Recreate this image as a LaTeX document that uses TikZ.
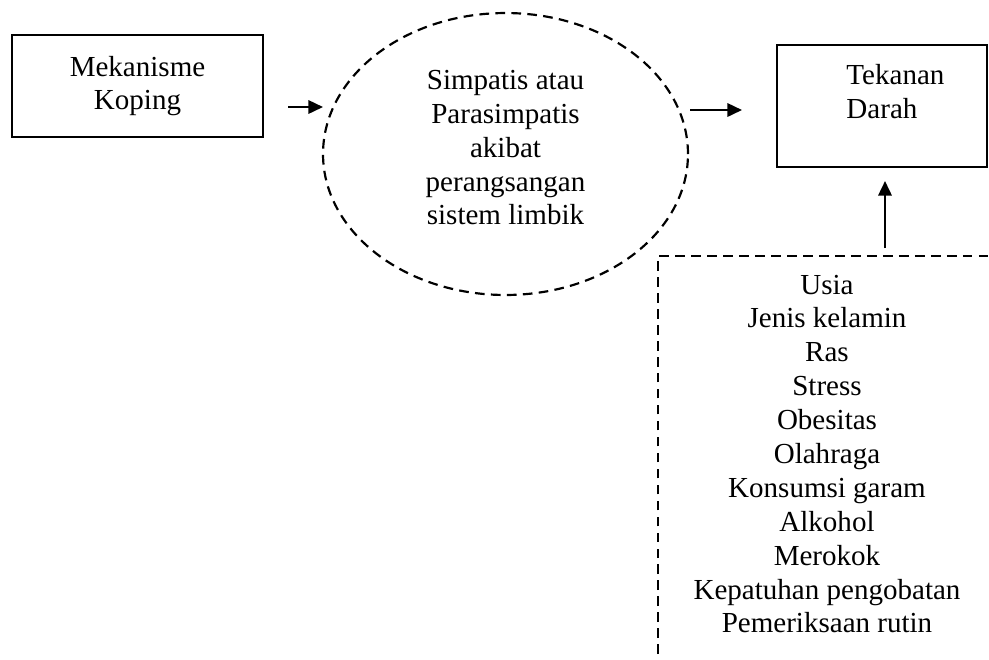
\documentclass[tikz,border=0pt]{standalone}
\usepackage{fontspec}
\setmainfont{Liberation Serif}
\usetikzlibrary{shapes.geometric}
\usetikzlibrary{arrows.meta}
\tikzset{t/.style={font=\fontsize{12}{14}\selectfont, align=center}}
\tikzset{box/.style={draw, line width=0.8pt, t}}
\tikzset{dsh/.style={dash pattern=on 4pt off 2.6pt, line width=0.9pt}}
\tikzset{arr/.style={-{Triangle[length=6pt,width=5.5pt]}, line width=0.9pt}}

\begin{document}
\begin{tikzpicture}[x=0.4132pt, y=-0.4132pt]
  \useasboundingbox (0,0) rectangle (989,659);
  \path[clip] (0,0) rectangle (989,659);
  \node (MK) [box, minimum width=103.7pt, minimum height=42.1pt] at (137.5,86) {Mekanisme\\Koping};
  \node (SP) [ellipse, draw, dsh, minimum width=150.8pt, minimum height=116.5pt] at (505.5,154) {};
  \node (SPl) [t] at ([yshift=2.6pt]SP.center)
    {Simpatis atau\\Parasimpatis\\akibat\\perangsangan\\sistem limbik};
  \node (TD) [box, minimum width=86.8pt, minimum height=50.4pt] at (882,106) {};
  \node (TDl) [t, align=left, anchor=west, inner sep=0pt] at (846,91.5) {Tekanan\\Darah};
  % faktor-faktor
  \node (FR) [t] at (827,454) {Usia\\Jenis kelamin\\Ras\\Stress\\Obesitas\\Olahraga\\Konsumsi garam\\Alkohol\\Merokok\\Kepatuhan pengobatan\\Pemeriksaan rutin};
  \draw[dsh] (658,670) |- (1000,256);
  % panah
  \coordinate (a1s) at (288,107);
  \coordinate (a1e) at (323,107);
  \coordinate (a2s) at (690,110);
  \coordinate (a2e) at (742,110);
  \coordinate (a3s) at (885,248);
  \coordinate (a3e) at (885,181);
  \draw[arr] (a1s) -- (a1e);
  \draw[arr] (a2s) -- (a2e);
  \draw[arr] (a3s) -- (a3e);
\end{tikzpicture}
\end{document}
